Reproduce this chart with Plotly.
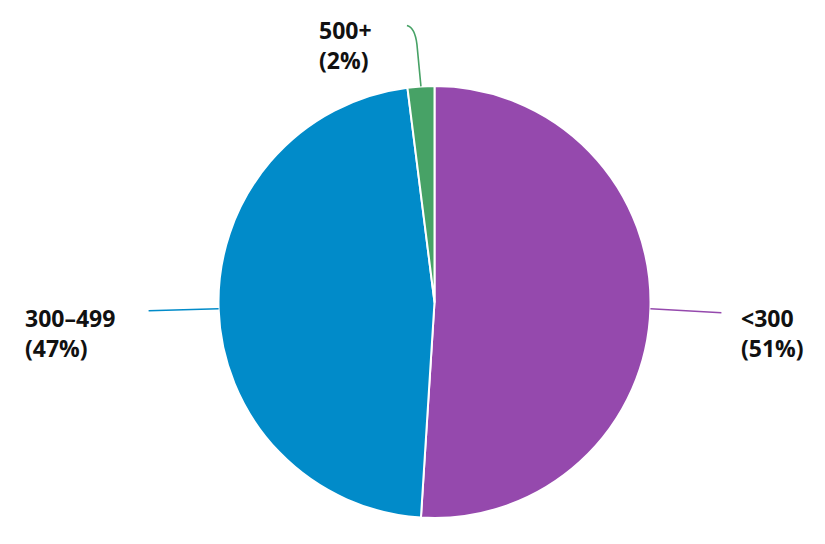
import math
import plotly.graph_objects as go

labels = ["<300", "300-499", "500+"]
values = [51, 47, 2]
colors = ["#9549AD", "#018BC9", "#47A266"]

W, H = 825, 544
cx, cy, R = 434.5, 302, 216

def px(x):
    return x / W

def py(y):
    return 1 - y / H

fig = go.Figure(go.Pie(
    labels=labels, values=values, sort=False, direction="clockwise", rotation=0,
    marker=dict(colors=colors, line=dict(color="white", width=2)),
    textinfo="none", hoverinfo="label+percent",
    domain=dict(x=[px(cx - R), px(cx + R)], y=[py(cy + R), py(cy - R)]),
))

# mid angle of each slice (clockwise from top), used for leader lines
total = sum(values)
mids = []
acc = 0
for v in values:
    mids.append((acc + v / 2) / total * 2 * math.pi)
    acc += v

def edge(a, r=R):
    return cx + r * math.sin(a), cy - r * math.cos(a)

shapes = []
annotations = []
font = dict(family="Open Sans", size=23, color="#111111")

# <300 : leader to the right
x0, y0 = edge(mids[0])
shapes.append(dict(type="line", xref="paper", yref="paper", x0=px(x0), y0=py(y0),
                   x1=px(x0 + 71), y1=py(y0 + 4), line=dict(color=colors[0], width=1.6)))
annotations.append(dict(x=px(739), y=py(333), xref="paper", yref="paper", xanchor="left",
                        yanchor="middle", align="left", showarrow=False, font=font,
                        text="<b>%s<br>(%d%%)</b>" % ("&lt;300", values[0])))

# 300-499 : leader to the left
x0, y0 = edge(mids[1])
shapes.append(dict(type="line", xref="paper", yref="paper", x0=px(x0), y0=py(y0),
                   x1=px(x0 - 70), y1=py(y0 + 2), line=dict(color=colors[1], width=1.6)))
annotations.append(dict(x=px(23), y=py(333), xref="paper", yref="paper", xanchor="left",
                        yanchor="middle", align="left", showarrow=False, font=font,
                        text="<b>%s<br>(%d%%)</b>" % ("300–499", values[1])))

# 500+ : curved leader up
x0, y0 = edge(mids[2])
path = "M %f,%f L %f,%f Q %f,%f %f,%f" % (
    px(x0), py(y0), px(x0 - 4), py(y0 - 42), px(x0 - 6), py(y0 - 59), px(x0 - 14), py(y0 - 61))
shapes.append(dict(type="path", xref="paper", yref="paper", path=path,
                   line=dict(color=colors[2], width=1.6)))
annotations.append(dict(x=px(317), y=py(45), xref="paper", yref="paper", xanchor="left",
                        yanchor="middle", align="left", showarrow=False, font=font,
                        text="<b>%s<br>(%d%%)</b>" % ("500+", values[2])))

fig.update_layout(width=W, height=H, margin=dict(l=0, r=0, t=0, b=0),
                  paper_bgcolor="white", plot_bgcolor="white", showlegend=False,
                  shapes=shapes, annotations=annotations)

fig.write_html("out.html", config={"displayModeBar": False},
               post_script="document.body.style.margin='0';")
